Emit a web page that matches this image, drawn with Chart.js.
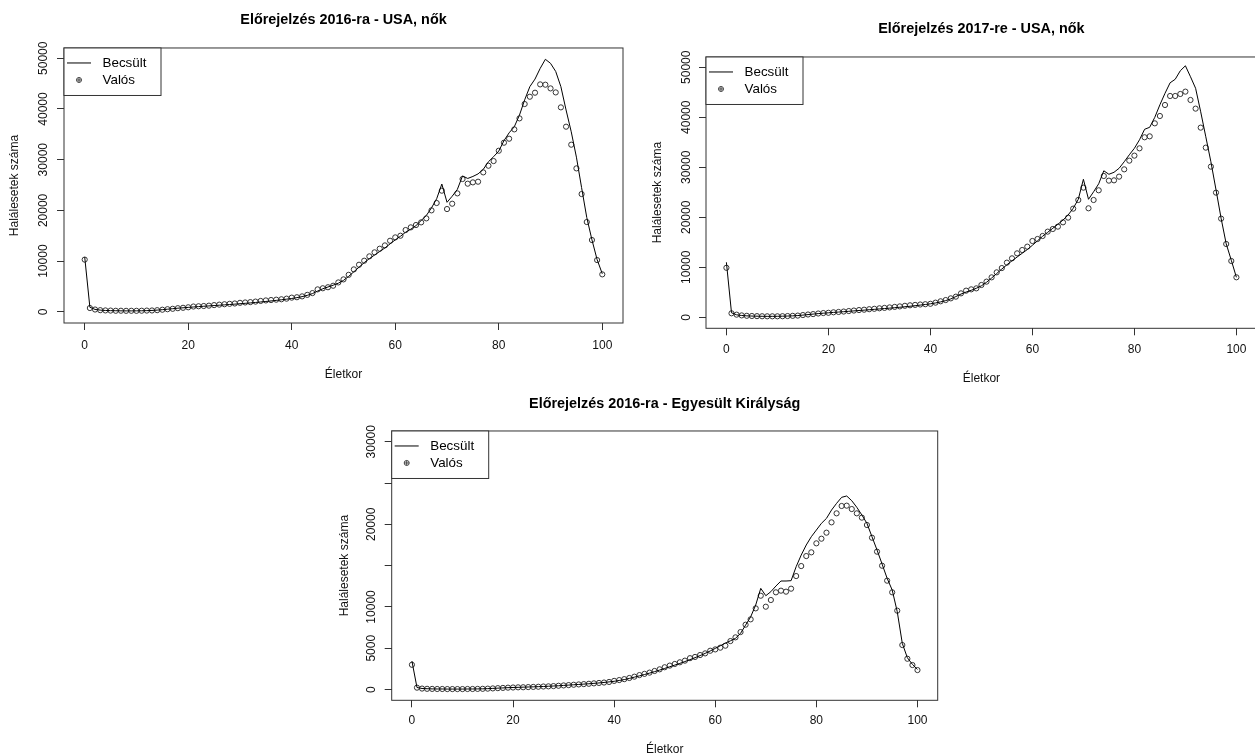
<!DOCTYPE html>
<html>
<head>
<meta charset="utf-8">
<script src="https://cdn.jsdelivr.net/npm/chart.js@4"></script>
<style>
html, body { margin: 0; padding: 0; background: #fff; overflow: hidden; width: 1255px; height: 754px; }
canvas { position: absolute; }
</style>
</head>
<body>
<canvas id="usa2016" width="630" height="390" style="left:0;top:0"></canvas>
<canvas id="usa2017" width="640" height="390" style="left:630px;top:0"></canvas>
<canvas id="uk2016" width="640" height="380" style="left:320px;top:380px"></canvas>
<script>
// életkor 0..100
const ages = [0,1,2,3,4,5,6,7,8,9,10,11,12,13,14,15,16,17,18,19,20,21,22,23,24,25,26,27,28,29,30,
  31,32,33,34,35,36,37,38,39,40,41,42,43,44,45,46,47,48,49,50,51,52,53,54,55,56,57,58,59,60,
  61,62,63,64,65,66,67,68,69,70,71,72,73,74,75,76,77,78,79,80,81,82,83,84,85,86,87,88,89,90,
  91,92,93,94,95,96,97,98,99,100];

const usa2016Est = [10800,900,480,340,270,240,220,200,190,190,200,210,240,280,340,430,520,620,720,800,
  880,960,1030,1100,1170,1240,1310,1380,1450,1520,1600,1680,1760,1850,1950,2050,2150,2260,2380,2500,
  2640,2800,3000,3250,3600,4100,4550,4900,5250,5650,6200,7000,7900,8800,9700,10500,11200,11900,12600,13400,
  14200,14900,15700,16300,17000,18000,19000,20500,22300,25200,21600,22800,24150,26800,26300,26700,27200,28100,29600,30600,
  31700,33750,35300,36500,38800,41800,44400,45900,48000,49800,49000,47400,44400,39800,35500,30500,24500,18600,14200,10300,
  7500];
const usa2016Real = [10300,750,460,330,280,250,210,220,200,210,200,220,250,270,330,420,520,600,720,800,
  900,1050,1100,1150,1220,1330,1420,1500,1580,1650,1780,1850,1920,2020,2150,2250,2330,2400,2480,2600,
  2800,2880,3050,3350,3700,4430,4650,4850,5150,5800,6400,7300,8370,9290,10080,10940,11730,12450,13100,14020,
  14680,15010,16130,16660,17120,17640,18430,20010,21460,23890,20270,21320,23360,26190,25270,25530,25660,27500,28810,29730,
  31770,33350,34140,35980,38150,40980,42420,43210,44850,44790,44060,43270,40320,36510,32960,28290,23230,17710,14160,10210,
  7390];

const usa2017Est = [11000,900,500,360,290,250,220,200,190,190,200,220,250,290,350,440,540,640,740,820,
  900,980,1050,1120,1200,1280,1360,1430,1510,1590,1670,1750,1830,1920,2010,2110,2210,2320,2440,2560,
  2700,2870,3080,3340,3680,4150,4650,5050,5400,5800,6300,7000,7850,8750,9650,10500,11300,12050,12800,13550,
  14400,15300,16200,17000,17800,18600,19450,20450,21800,23600,27600,23600,25100,26700,29300,28600,29000,29800,31100,32500,
  33800,35500,37600,38000,40000,42500,44800,46900,47600,49300,50300,48100,45800,41100,36100,31100,25500,19800,14700,11400,
  8000];
const usa2017Real = [9900,800,530,380,300,260,230,210,200,200,200,220,250,290,340,450,560,640,760,850,
  900,1000,1070,1150,1250,1350,1450,1520,1620,1700,1800,1880,1980,2080,2180,2300,2400,2480,2560,2620,
  2700,2930,3200,3450,3790,4130,4790,5330,5590,5790,6460,7130,7990,8990,9850,10930,11790,12790,13460,14130,
  15260,15660,16260,17130,17660,18130,18990,19930,21730,23460,25930,21800,23460,25400,28260,27330,27390,28130,29590,31330,
  32330,33790,36000,36190,38790,40260,42460,44260,44260,44660,45130,43460,41730,37930,33930,30130,24930,19730,14660,11260,
  8000];

const uk2016Est = [3450,250,130,100,80,70,70,60,60,60,60,70,70,80,90,110,140,170,200,230,
  250,270,290,310,330,350,370,400,430,460,500,540,580,620,660,700,750,800,860,930,
  1000,1100,1210,1350,1500,1660,1820,1990,2170,2360,2560,2760,2960,3170,3390,3620,3860,4110,4380,4670,
  4980,5300,5620,5900,6200,6800,7800,8800,10230,12250,11360,11850,12530,13140,13140,13180,14870,16280,17500,18500,
  19310,20120,20720,21730,22540,23270,23430,22860,22060,21130,20120,18500,16890,15190,13460,12050,9420,5590,3850,3050,
  2440];
const uk2016Real = [3000,230,120,90,80,70,70,60,60,60,60,70,70,80,90,110,140,170,200,230,
  250,270,280,300,320,340,370,390,420,460,500,540,580,620,660,700,750,800,850,920,
  1050,1150,1260,1400,1560,1750,1900,2050,2250,2450,2700,2900,3100,3300,3500,3800,3950,4180,4380,4700,
  4860,5070,5310,5870,6320,6960,7850,8500,9830,11360,10030,10840,11770,11970,11850,12210,13740,14950,16160,16610,
  17700,18260,18990,20240,21330,22220,22260,21850,21330,20810,19920,18380,16690,14990,13180,11770,9550,5390,3730,2970,
  2360];

const xTicks = [0, 20, 40, 60, 80, 100];
const xLabels = ['0', '20', '40', '60', '80', '100'];
const yTicksUsa = [0, 10000, 20000, 30000, 40000, 50000];
const yLabelsUsa = ['0', '10000', '20000', '30000', '40000', '50000'];
const yTicksUk = [0, 5000, 10000, 15000, 20000, 25000, 30000];
const yLabelsUk = ['0', '5000', '10000', '', '20000', '', '30000'];

Chart.defaults.font.family = "'Liberation Sans', Arial, sans-serif";
Chart.defaults.color = '#111';

// keret a rajzterület körül (R box)
const frame = {
  id: 'frame',
  afterDatasetsDraw(chart) {
    const { ctx, chartArea: a } = chart;
    ctx.save();
    ctx.strokeStyle = '#333';
    ctx.lineWidth = 1;
    ctx.strokeRect(a.left, a.top, a.right - a.left, a.bottom - a.top);
    ctx.restore();
  }
};

// R-szerű jelmagyarázat a bal felső sarokban
const boxLegend = {
  id: 'boxLegend',
  afterDatasetsDraw(chart, args, opts) {
    const { ctx, chartArea: a } = chart;
    const ds = chart.data.datasets;
    const x0 = a.left, y0 = a.top;
    ctx.save();
    ctx.fillStyle = '#fff';
    ctx.fillRect(x0, y0, opts.width, opts.height);
    ctx.strokeStyle = '#333';
    ctx.lineWidth = 1;
    ctx.strokeRect(x0, y0, opts.width, opts.height);

    ctx.strokeStyle = '#000';
    ctx.beginPath();
    ctx.moveTo(x0 + 3, y0 + opts.row1);
    ctx.lineTo(x0 + 27, y0 + opts.row1);
    ctx.stroke();

    ctx.strokeStyle = '#444';
    ctx.beginPath();
    ctx.arc(x0 + 15, y0 + opts.row2, 2.5, 0, Math.PI * 2);
    ctx.moveTo(x0 + 12.5, y0 + opts.row2);
    ctx.lineTo(x0 + 17.5, y0 + opts.row2);
    ctx.moveTo(x0 + 15, y0 + opts.row2 - 2.5);
    ctx.lineTo(x0 + 15, y0 + opts.row2 + 2.5);
    ctx.stroke();

    ctx.fillStyle = '#000';
    ctx.font = "13.4px 'Liberation Sans', Arial, sans-serif";
    ctx.textBaseline = 'middle';
    ctx.textAlign = 'left';
    ctx.fillText(ds[0].label, x0 + 38.5, y0 + opts.row1);
    ctx.fillText(ds[1].label, x0 + 38.5, y0 + opts.row2);
    ctx.restore();
  }
};

function makeChart(id, title, est, real, yTicks, yLabels, yMin, yMax, lay) {
  const tickGrid = { drawOnChartArea: false, drawTicks: true, tickLength: 7, color: '#333', lineWidth: 1 };
  return new Chart(document.getElementById(id), {
    type: 'line',
    data: {
      datasets: [
        {
          label: 'Becsült',
          data: ages.map((a, i) => ({ x: a, y: est[i] })),
          borderColor: '#000',
          borderWidth: 1,
          pointRadius: 0,
          tension: 0,
          fill: false
        },
        {
          label: 'Valós',
          data: ages.map((a, i) => ({ x: a, y: real[i] })),
          showLine: false,
          pointStyle: 'circle',
          pointRadius: 2.6,
          pointBorderWidth: 1,
          pointBorderColor: '#333',
          pointBackgroundColor: 'rgba(0,0,0,0)'
        }
      ]
    },
    options: {
      responsive: false,
      animation: false,
      events: [],
      layout: { padding: { left: 0, top: 0, right: lay.padRight, bottom: 0 } },
      plugins: {
        legend: { display: false },
        tooltip: { enabled: false },
        title: {
          display: true,
          text: title,
          fullSize: false,
          color: '#000',
          font: { size: 14.4, weight: 'bold' },
          padding: { top: lay.titleTop, bottom: lay.titleBottom }
        },
        boxLegend: { width: 97, height: 47.5, row1: 15, row2: 32 }
      },
      scales: {
        x: {
          type: 'linear',
          min: -4,
          max: 104,
          afterBuildTicks: s => { s.ticks = xTicks.map(v => ({ value: v })); },
          afterFit: s => { s.height = lay.xHeight; },
          grid: tickGrid,
          border: { display: false },
          ticks: { autoSkip: false, maxRotation: 0, font: { size: 12 }, padding: lay.xTickPad,
                   callback: (v, i) => xLabels[i] },
          title: { display: true, text: 'Életkor', font: { size: 12 }, padding: { top: 0, bottom: lay.xTitlePad } }
        },
        y: {
          type: 'linear',
          min: yMin,
          max: yMax,
          afterBuildTicks: s => { s.ticks = yTicks.map(v => ({ value: v })); },
          afterFit: s => { s.width = lay.yWidth; },
          grid: tickGrid,
          border: { display: false },
          ticks: { autoSkip: false, minRotation: 90, maxRotation: 90, crossAlign: 'center',
                   font: { size: 12 }, padding: lay.yTickPad, callback: (v, i) => yLabels[i] },
          title: { display: true, text: 'Halálesetek száma', font: { size: 12 }, padding: { top: lay.yTitlePad, bottom: 0 } }
        }
      }
    },
    plugins: [frame, boxLegend]
  });
}

makeChart('usa2016', 'Előrejelzés 2016-ra - USA, nők', usa2016Est, usa2016Real, yTicksUsa, yLabelsUsa, -2200, 52030,
  { padRight: 7, titleTop: 11.4, titleBottom: 19.3, yWidth: 64, yTitlePad: 7.8, yTickPad: -3,
    xHeight: 67, xTickPad: 8.8, xTitlePad: 7.8 });

makeChart('usa2017', 'Előrejelzés 2017-re - USA, nők', usa2017Est, usa2017Real, yTicksUsa, yLabelsUsa, -2200, 52060,
  { padRight: 13.2, titleTop: 20.4, titleBottom: 19.3, yWidth: 76, yTitlePad: 20.8, yTickPad: -4.7,
    xHeight: 61.7, xTickPad: 7.5, xTitlePad: 4.5 });

makeChart('uk2016', 'Előrejelzés 2016-ra - Egyesült Királyság', uk2016Est, uk2016Real, yTicksUk, yLabelsUk, -1300, 31300,
  { padRight: 22.3, titleTop: 15.4, titleBottom: 18.3, yWidth: 71.7, yTitlePad: 17.6, yTickPad: -3.3,
    xHeight: 59.7, xTickPad: 6.2, xTitlePad: 3.5 });
</script>
</body>
</html>
